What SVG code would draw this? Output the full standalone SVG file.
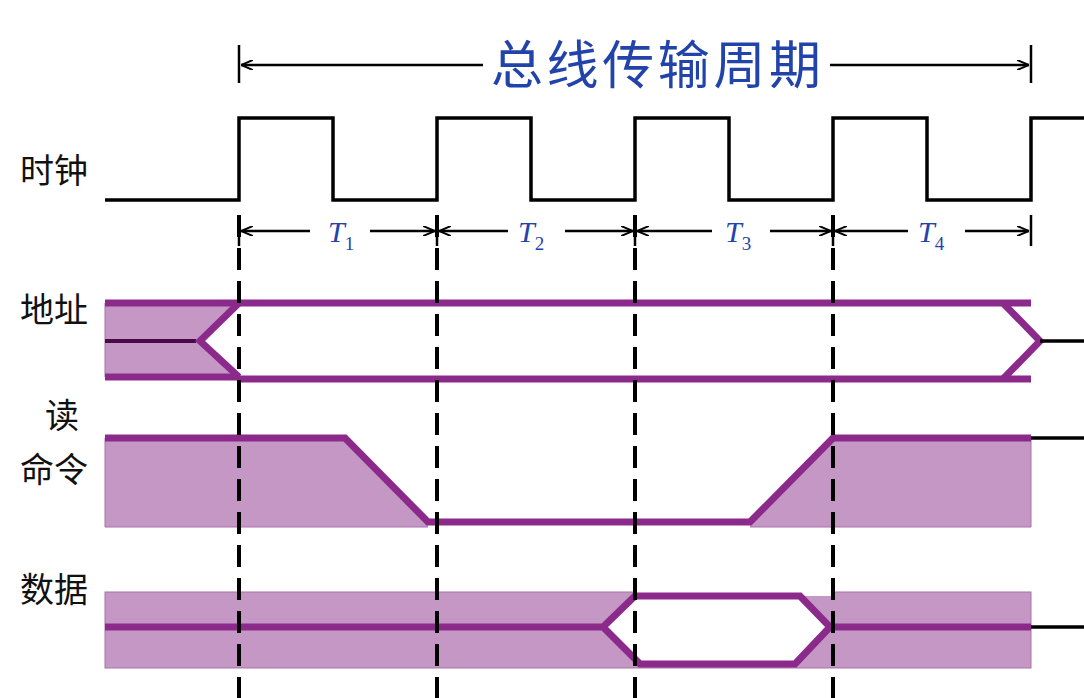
<svg xmlns="http://www.w3.org/2000/svg" width="1084" height="698" viewBox="0 0 1084 698">
<defs>
<style>
.lbl{font-family:"Noto Sans CJK SC",sans-serif;font-size:34px;fill:#111}
.k{stroke:#000;stroke-width:3.5;fill:none}
.d{stroke:#000;stroke-width:4;stroke-dasharray:22,11;fill:none}
.p{stroke:#8B2A8B;stroke-width:7;fill:none;stroke-linejoin:miter}
.f{fill:#C497C4;stroke:#A870A8;stroke-width:1}
.t{font-family:"Liberation Serif",serif;font-style:italic;font-size:30px;fill:#2244AA}
.s{font-size:19px;font-style:normal}
.a{stroke:#000;stroke-width:2.5;fill:none}
</style>
<marker id="ah" viewBox="0 0 12 10" refX="12" refY="5" markerWidth="12" markerHeight="10" orient="auto-start-reverse" markerUnits="userSpaceOnUse"><path d="M0,0 L12,5 L0,10" fill="none" stroke="#000" stroke-width="2"/></marker>
</defs>
<rect width="1084" height="698" fill="#fff"/>
<g id="labels">
<text class="lbl" x="20" y="183">时钟</text>
<text class="lbl" x="20" y="322">地址</text>
<text class="lbl" x="45" y="428">读</text>
<text class="lbl" x="20" y="482">命令</text>
<text class="lbl" x="20" y="602">数据</text>
</g>
<g id="period">
<line class="a" x1="239" y1="45" x2="239" y2="83"/><line class="a" x1="1031" y1="45" x2="1031" y2="83"/>
<line class="a" x1="483" y1="65" x2="241" y2="65" marker-end="url(#ah)"/>
<line class="a" x1="830" y1="65" x2="1029" y2="65" marker-end="url(#ah)"/>
<text x="656" y="84" text-anchor="middle" font-family="Noto Sans CJK SC,sans-serif" font-size="52" fill="#2244AA" textLength="330">总线传输周期</text>
</g>
<g id="clock">
<polyline class="k" points="105,200 239,200 239,118 333,118 333,200 437,200 437,118 531,118 531,200 635,200 635,118 729,118 729,200 833,200 833,118 927,118 927,200 1031,200 1031,118 1084,118"/>
</g>
<g id="phases">
<g class="a"><line x1="239" y1="215" x2="239" y2="246"/><line x1="437" y1="215" x2="437" y2="246"/><line x1="635" y1="215" x2="635" y2="246"/><line x1="833" y1="215" x2="833" y2="246"/><line x1="1031" y1="215" x2="1031" y2="246"/></g>
<line class="a" x1="310" y1="231" x2="241" y2="231" marker-end="url(#ah)"/><line class="a" x1="370" y1="231" x2="435" y2="231" marker-end="url(#ah)"/>
<line class="a" x1="508" y1="231" x2="439" y2="231" marker-end="url(#ah)"/><line class="a" x1="565" y1="231" x2="633" y2="231" marker-end="url(#ah)"/>
<line class="a" x1="712" y1="231" x2="637" y2="231" marker-end="url(#ah)"/><line class="a" x1="770" y1="231" x2="831" y2="231" marker-end="url(#ah)"/>
<line class="a" x1="908" y1="231" x2="835" y2="231" marker-end="url(#ah)"/><line class="a" x1="965" y1="231" x2="1029" y2="231" marker-end="url(#ah)"/>
<text class="t" x="328" y="242">T<tspan class="s" dy="8">1</tspan></text>
<text class="t" x="518" y="242">T<tspan class="s" dy="8">2</tspan></text>
<text class="t" x="725" y="242">T<tspan class="s" dy="8">3</tspan></text>
<text class="t" x="918" y="242">T<tspan class="s" dy="8">4</tspan></text>
</g>
<g id="address">
<polygon class="f" points="105,303 239,303 196,341 239,377 105,377" stroke="none"/>
<line x1="105" y1="341" x2="196" y2="341" stroke="#4a0a4a" stroke-width="4"/>
<line class="p" x1="105" y1="303" x2="1031" y2="303"/>
<line class="p" x1="105" y1="377" x2="239" y2="377"/>
<line class="p" x1="239" y1="379" x2="1031" y2="379"/>
<polyline class="p" points="239,303 200,341 239,377"/>
<polyline class="p" points="1003,303 1040,341 1003,379"/>
<line class="k" x1="1040" y1="341" x2="1084" y2="341"/>
</g>
<g id="read">
<polygon class="f" points="105,438 345,438 428,522 750,522 833,438 1031,438 1031,527 105,527"/>
<polygon points="345,442 428,522 750,522" fill="#fff"/>
<rect x="428" y="515" width="322" height="14" fill="#fff"/>
<polyline class="p" points="105,438 345,438 428,522 750,522 833,438 1031,438"/>
<line class="k" x1="1031" y1="438" x2="1084" y2="438"/>
</g>
<g id="data">
<rect class="f" x="105" y="592" width="926" height="76"/>
<polygon points="603,627 635,596 800,596 830,627 795,664 645,664" fill="#fff"/>
<rect x="635" y="586" width="200" height="10" fill="#fff"/>
<polyline class="p" points="105,627 603,627 635,596 800,596 830,627 795,664 640,664 603,627"/>
<line class="p" x1="830" y1="627" x2="1031" y2="627"/>
<line class="k" x1="1031" y1="627" x2="1084" y2="627"/>
</g>
<g id="dashes">
<line class="d" x1="239" y1="215" x2="239" y2="698"/>
<line class="d" x1="437" y1="215" x2="437" y2="698"/>
<line class="d" x1="635" y1="215" x2="635" y2="698"/>
<line class="d" x1="833" y1="215" x2="833" y2="698"/>
</g>
</svg>
